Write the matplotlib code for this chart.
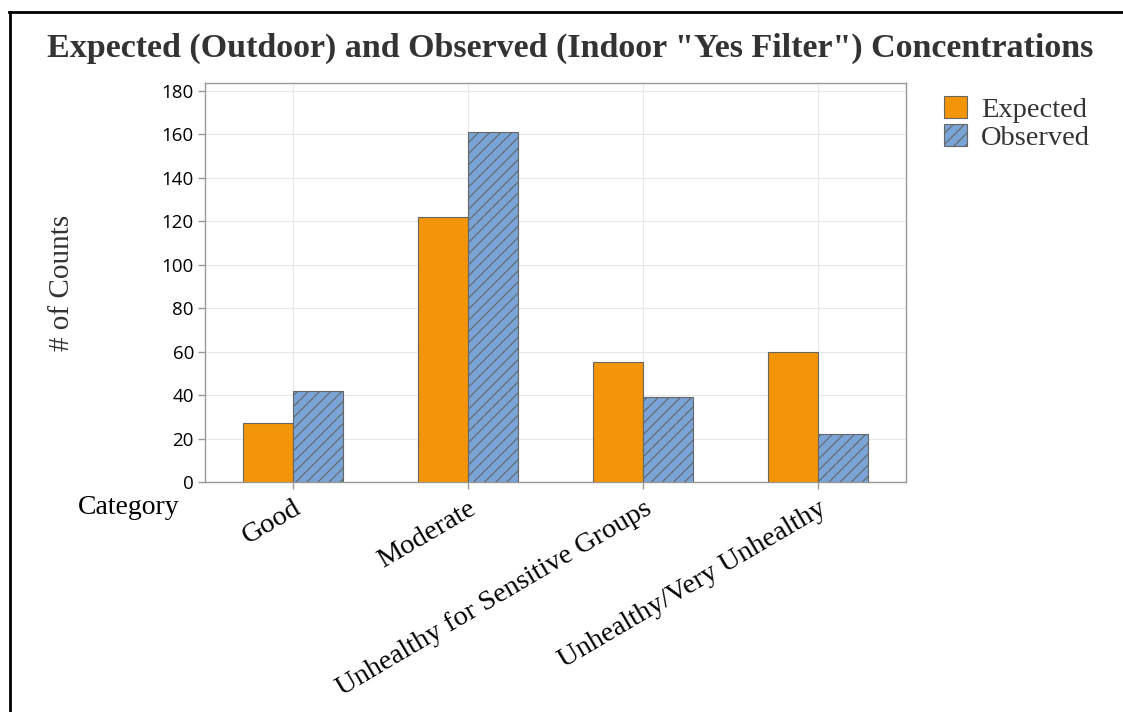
import matplotlib
matplotlib.use("Agg")
import matplotlib.pyplot as plt
import numpy as np
from matplotlib.lines import Line2D

categories = ["Good", "Moderate", "Unhealthy for Sensitive Groups", "Unhealthy/Very Unhealthy"]
expected = [27, 122, 55, 60]
observed = [42, 161, 39, 22]
yticks = [0, 20, 40, 60, 80, 100, 120, 140, 160, 180]

W, H = 1123, 712
fig = plt.figure(figsize=(W / 100, H / 100), dpi=100)
ax = fig.add_axes([205 / W, 1 - 482 / H, (906 - 205) / W, (482 - 83) / H])

x = np.arange(len(categories))
bw = 0.286
plt.rcParams['hatch.color'] = '#555555'
plt.rcParams['hatch.linewidth'] = 0.8
b1 = ax.bar(x - bw / 2, expected, bw, color="#F39508", edgecolor="#666666", linewidth=0.8,
            label="Expected", zorder=3)
b2 = ax.bar(x + bw / 2, observed, bw, color="#7AA4D6", edgecolor="#666666", linewidth=0.8,
            hatch="///", label="Observed", zorder=3)

ax.set_xlim(-0.503, 3.503)
ax.set_ylim(0, 183.5)
ax.set_yticks(yticks)
ax.set_xticks(x)
ax.set_yticklabels([str(v) for v in yticks], fontfamily="Open Sans", fontsize=13.5,
                   fontweight="medium", color="black")
ax.set_xticklabels(categories, fontfamily="Liberation Serif", fontsize=20.5, rotation=30.5,
                   ha="right", rotation_mode="anchor", color="black")
ax.grid(True, color="#E8E8E8", linewidth=0.8, zorder=0)
for s in ax.spines.values():
    s.set_color("#999999")
    s.set_linewidth(1.0)
ax.tick_params(axis="both", color="#999999", length=5, width=1)
ax.tick_params(axis="y", pad=3)
ax.tick_params(axis="x", pad=5)

fig.text(47 / W, 1 - 48 / H,
         'Expected (Outdoor) and Observed (Indoor "Yes Filter") Concentrations',
         fontfamily="Liberation Serif", fontweight="bold", fontsize=24.5, color="#333333",
         ha="left", va="center")
fig.text(62 / W, 1 - 283 / H, "# of Counts", fontfamily="Liberation Serif", fontsize=21,
         color="#333333", rotation=90, ha="center", va="center")
fig.text(78 / W, 1 - 507 / H, "Category", fontfamily="Liberation Serif", fontsize=20,
         color="black", ha="left", va="center")

leg = fig.legend(handles=[b1, b2], labels=["Expected", "Observed"],
                 loc="upper left", bbox_to_anchor=(933 / W, 1 - 85 / H),
                 frameon=False, prop={"family": "Liberation Serif", "size": 20.5},
                 handlelength=0.78, handleheight=0.78, handletextpad=0.5, labelspacing=0.04,
                 borderaxespad=0)
for t in leg.get_texts():
    t.set_color("#333333")

fig.add_artist(Line2D([10 / W, 10 / W], [0, 1 - 12 / H], transform=fig.transFigure,
                      color="black", linewidth=2))
fig.add_artist(Line2D([9 / W, 1], [1 - 12 / H, 1 - 12 / H], transform=fig.transFigure,
                      color="black", linewidth=2))

fig.savefig("out.png", dpi=100)
